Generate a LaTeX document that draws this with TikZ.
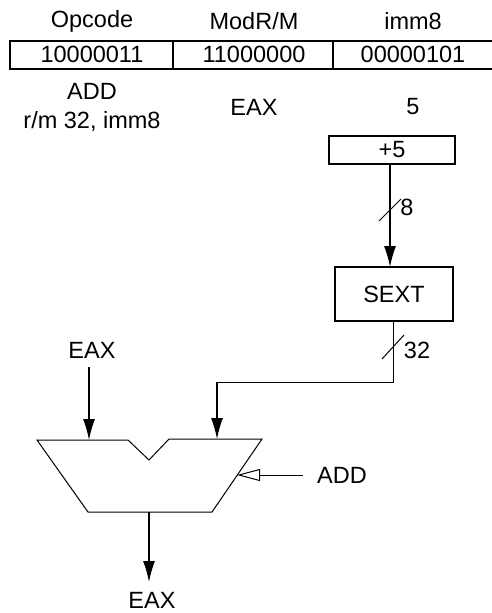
\documentclass[tikz,border=0pt]{standalone}
\usepackage{fontspec}
\setmainfont{Liberation Sans}
\usetikzlibrary{arrows.meta,positioning,calc}
\tikzset{
  lbl/.style={inner sep=0pt,font=\fontsize{23.5}{27}\selectfont,align=center,text=black},
  fld/.style={rectangle,draw=black,line width=1.1pt,minimum height=28pt,inner sep=0pt},
  blk/.style={rectangle,draw=black,line width=1.1pt,inner sep=0pt,
              font=\fontsize{23.5}{27}\selectfont,align=center,text=black},
  arr/.style={-{Latex[length=21pt,width=12pt]},line width=1.3pt},
  oarr/.style={-{Triangle[open,length=23pt,width=12pt]},line width=1pt},
  wire/.style={line width=1pt},
}

\begin{document}
\begin{tikzpicture}[x=1pt,y=-1pt]
  \useasboundingbox (0,0) rectangle (491,613);

  % instruction bytes
  \foreach \nm/\xc/\fx/\fw/\bits/\hd/\dec in {
    op/92/91.5/163/10000011/Opcode/{ADD\\[2pt]r/m 32, imm8},
    mod/254/253/160/11000000/{ModR/M}/EAX,
    imm/413/415/164/00000101/imm8/5}{
    \node[fld,minimum width=\fw pt] (\nm) at (\fx,55) {};
    \node[lbl] (\nm bits) at (\xc,54.5) {\bits};
    \node[lbl] (\nm head) at (\xc,21) {\hd};
    \node[lbl] (\nm dec) at (\xc,107) {\dec};
  }

  \node[blk,minimum width=126pt,minimum height=28pt] (disp) at (392,150) {+5};
  \node[blk,minimum width=118pt,minimum height=54pt] (sext) at (394,294) {SEXT};

  % adder outline
  \coordinate (aluA) at (37,440);
  \coordinate (aluB) at (128,440);
  \coordinate (aluC) at (149,460);
  \coordinate (aluD) at (169,439);
  \coordinate (aluE) at (262,439);
  \coordinate (aluF) at (212,512);
  \coordinate (aluG) at (88,512);
  \draw[wire] (aluA) -- (aluB) -- (aluC) -- (aluD) -- (aluE) -- (aluF) -- (aluG) -- cycle;
  \coordinate (aluin1) at (89,440);
  \coordinate (aluin2) at (217,439);
  \coordinate (aluout) at (149,512);
  \coordinate (aluctl) at (237,475);
  \coordinate (dispout) at (390,164);
  \coordinate (sextin) at (390,267);
  \coordinate (sextout) at (393,321);
  \coordinate (busturn) at (393,382);
  \coordinate (busdrop) at (217,382);
  \coordinate (eaxstart) at (89,367);
  \coordinate (aluend) at (149,582);

  \node[lbl] (eaxin) at (92,350) {EAX};
  \node[lbl] (eaxout) at (152,600) {EAX};
  \node[lbl] (addctl) at (342,475) {ADD};

  \draw[arr] (dispout) -- (sextin);
  \draw[wire] (sextout) -- (busturn) -- (busdrop);
  \draw[arr] (busdrop) -- (aluin2);
  \draw[arr] (eaxstart) -- (aluin1);
  \draw[arr] (aluout) -- (aluend);
  \draw[oarr] ($(addctl.west)+(-14,0)$) -- (aluctl);

  % bus widths
  \coordinate (tick8a) at (379,221);
  \coordinate (tick8b) at (401,199);
  \coordinate (tick32a) at (382,359);
  \coordinate (tick32b) at (404,335);
  \draw[wire] (tick8a) -- (tick8b);
  \draw[wire] (tick32a) -- (tick32b);
  \node[lbl] (w8) at (407,207) {8};
  \node[lbl] (w32) at (417,350) {32};
\end{tikzpicture}
\end{document}
